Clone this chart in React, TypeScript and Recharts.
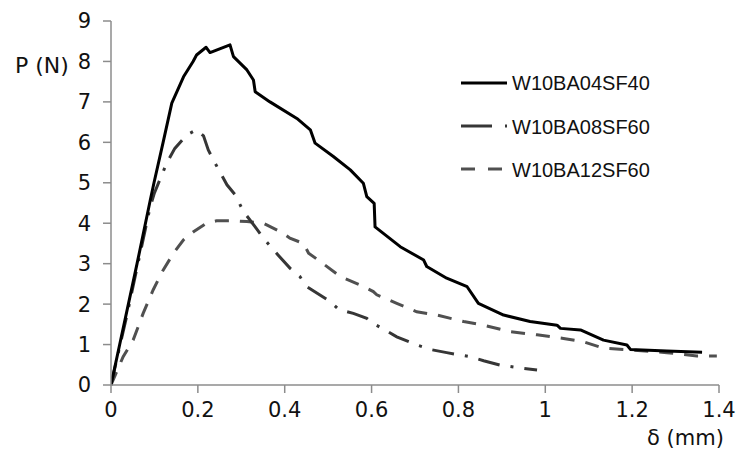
import React from "react";
import { LineChart, Line, XAxis, YAxis } from "recharts";

const seriesNames = ["W10BA04SF40", "W10BA08SF60", "W10BA12SF60"];

const s1X = [0, 0.02, 0.04, 0.06, 0.09, 0.099, 0.12, 0.14, 0.167, 0.189, 0.197, 0.219, 0.228, 0.274, 0.282, 0.313, 0.328, 0.332, 0.366, 0.428, 0.459, 0.47, 0.512, 0.551, 0.581, 0.589, 0.606, 0.608, 0.666, 0.72, 0.727, 0.773, 0.82, 0.846, 0.904, 0.965, 1.027, 1.035, 1.081, 1.134, 1.188, 1.196, 1.28, 1.361];
const s1Y = [0, 1.0, 2.0, 3.0, 4.55, 5.0, 6.0, 6.97, 7.62, 8.0, 8.16, 8.35, 8.22, 8.41, 8.12, 7.79, 7.54, 7.25, 7.0, 6.59, 6.31, 5.98, 5.65, 5.32, 4.99, 4.66, 4.49, 3.91, 3.42, 3.09, 2.93, 2.64, 2.43, 2.02, 1.73, 1.57, 1.48, 1.4, 1.36, 1.11, 0.99, 0.88, 0.84, 0.81];

const s2X = [0, 0.02, 0.036, 0.06, 0.09, 0.1, 0.128, 0.147, 0.174, 0.197, 0.213, 0.224, 0.24, 0.267, 0.286, 0.305, 0.332, 0.351, 0.374, 0.412, 0.435, 0.451, 0.505, 0.524, 0.558, 0.589, 0.604, 0.631, 0.658, 0.704, 0.739, 0.773, 0.827, 0.858, 0.896, 0.95, 0.981];
const s2Y = [0, 0.95, 1.69, 2.9, 4.4, 4.75, 5.48, 5.85, 6.18, 6.31, 6.16, 5.81, 5.48, 4.95, 4.7, 4.29, 3.91, 3.63, 3.34, 2.89, 2.68, 2.43, 2.06, 1.87, 1.77, 1.65, 1.52, 1.36, 1.19, 0.99, 0.87, 0.8, 0.7, 0.6, 0.49, 0.41, 0.37];

const s3X = [0, 0.028, 0.051, 0.074, 0.097, 0.12, 0.144, 0.167, 0.19, 0.22, 0.243, 0.282, 0.313, 0.351, 0.397, 0.412, 0.443, 0.455, 0.482, 0.528, 0.574, 0.604, 0.612, 0.658, 0.704, 0.75, 0.812, 0.858, 0.919, 0.981, 1.042, 1.088, 1.134, 1.188, 1.28, 1.349, 1.395];
const s3Y = [0, 0.7, 1.11, 1.77, 2.35, 2.84, 3.26, 3.59, 3.79, 4.0, 4.06, 4.06, 4.04, 4.0, 3.75, 3.63, 3.5, 3.26, 3.05, 2.68, 2.47, 2.31, 2.23, 2.02, 1.81, 1.73, 1.57, 1.48, 1.32, 1.24, 1.15, 1.07, 0.91, 0.87, 0.8, 0.72, 0.72];

const xTicks = [0, 0.2, 0.4, 0.6, 0.8, 1, 1.2, 1.4];
const yTicks = [0, 1, 2, 3, 4, 5, 6, 7, 8, 9];

const build = (xs: number[], ys: number[]) => xs.map((x, i) => ({ x, y: ys[i] }));
const d1 = build(s1X, s1Y);
const d2 = build(s2X, s2Y);
const d3 = build(s3X, s3Y);

const tickFont = { fontFamily: "DejaVu Sans", fontSize: 21, fill: "#111" };
const axisColor = "#8c8c8c";

export default function App() {
  return (
    <div style={{ position: "absolute", left: 0, top: 0, width: 736, height: 450, background: "#fff" }}>
      <LineChart width={736} height={450} data={d1} margin={{ top: 21, right: 17, left: 0, bottom: 0 }}>
        <XAxis
          type="number"
          dataKey="x"
          domain={[0, 1.4]}
          ticks={xTicks}
          allowDataOverflow
          height={65}
          tickSize={8}
          tickMargin={9}
          stroke={axisColor}
          strokeWidth={1.5}
          tick={tickFont}
          tickLine={{ stroke: axisColor, strokeWidth: 1.5 }}
        />
        <YAxis
          type="number"
          dataKey="y"
          domain={[0, 9]}
          ticks={yTicks}
          width={111}
          tickSize={8}
          tickMargin={12}
          stroke={axisColor}
          strokeWidth={1.5}
          tick={tickFont}
          tickLine={{ stroke: axisColor, strokeWidth: 1.5 }}
        />
        <Line data={d3} dataKey="y" name={seriesNames[2]} type="linear" stroke="#505050" strokeWidth={3} strokeDasharray="14 11" dot={false} isAnimationActive={false} />
        <Line data={d2} dataKey="y" name={seriesNames[1]} type="linear" stroke="#363636" strokeWidth={3} strokeDasharray="22 11 3 11" dot={false} isAnimationActive={false} />
        <Line data={d1} dataKey="y" name={seriesNames[0]} type="linear" stroke="#000" strokeWidth={3} strokeLinejoin="round" dot={false} isAnimationActive={false} />
      </LineChart>
      <svg width={736} height={450} style={{ position: "absolute", left: 0, top: 0, pointerEvents: "none" }}>
        <text x={15} y={73} style={{ fontFamily: "DejaVu Sans", fontSize: 22, fill: "#111" }}>P (N)</text>
        <text x={647} y={445} style={{ fontFamily: "DejaVu Sans", fontSize: 21, fill: "#111" }}>δ (mm)</text>
        <line x1={461} y1={83} x2={507} y2={83} stroke="#000" strokeWidth={3} />
        <line x1={461} y1={126} x2={507} y2={126} stroke="#363636" strokeWidth={3} strokeDasharray="31 13 3 20" />
        <line x1={461} y1={169} x2={505} y2={169} stroke="#505050" strokeWidth={3} strokeDasharray="14 13" />
        {seriesNames.map((n, i) => (
          <text key={n} x={512} y={90 + i * 43.5} style={{ fontFamily: "Liberation Sans", fontSize: 20, fill: "#111" }}>{n}</text>
        ))}
      </svg>
    </div>
  );
}
